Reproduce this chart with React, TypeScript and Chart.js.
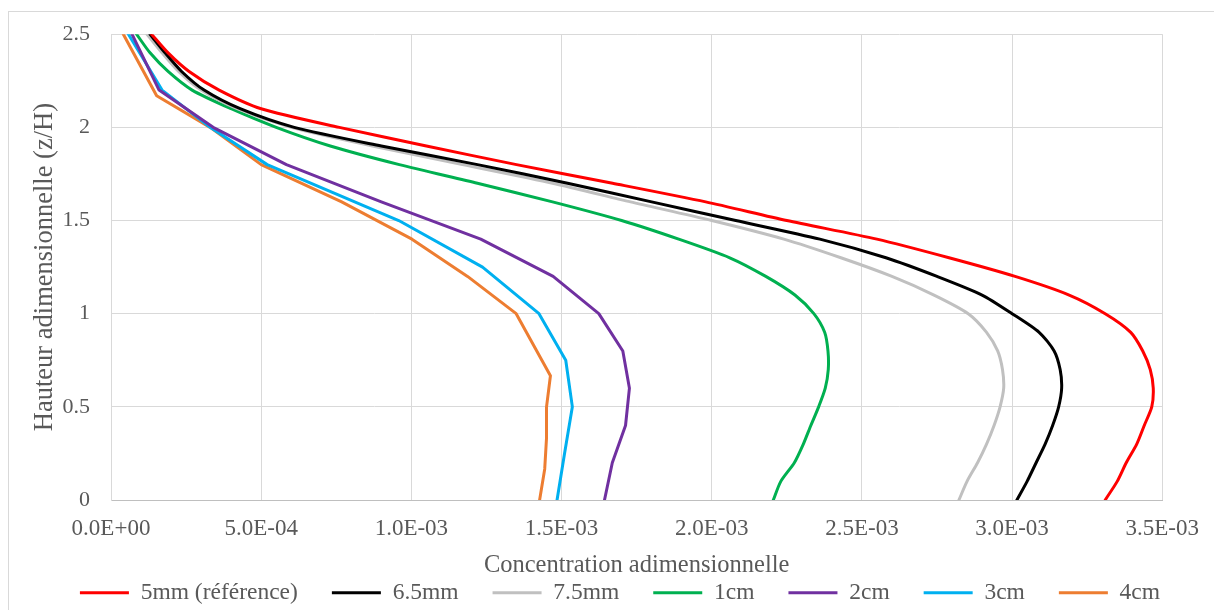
import React, { useEffect, useRef } from "react";
import { Chart, registerables } from "chart.js";

Chart.register(...registerables);

// Heights (z/H)
const heightsFine = [0, 0.1, 0.2, 0.3, 0.4, 0.5, 0.6, 0.7, 0.8, 0.9, 1.0, 1.1, 1.2, 1.3, 1.4, 1.5, 1.6, 1.7, 1.8, 1.9, 2.0, 2.1, 2.2, 2.3, 2.4, 2.5];
const heights2cm = [0, 0.2, 0.4, 0.6, 0.8, 1.0, 1.2, 1.4, 1.6, 1.8, 2.0, 2.2, 2.5];
const heights3cm = [0, 0.25, 0.5, 0.75, 1.0, 1.25, 1.5, 1.8, 2.0, 2.2, 2.5];
const heights4cm = [0, 0.167, 0.333, 0.5, 0.667, 1.0, 1.2, 1.4, 1.6, 1.8, 2.0, 2.17, 2.5];

// Concentrations, in units of 1E-03
const conc5mm = [3.31, 3.35, 3.38, 3.415, 3.44, 3.465, 3.47, 3.46, 3.435, 3.395, 3.31, 3.19, 3.01, 2.79, 2.55, 2.25, 1.98, 1.67, 1.35, 1.05, 0.76, 0.5, 0.36, 0.26, 0.19, 0.135];
const conc65mm = [3.016, 3.05, 3.08, 3.11, 3.135, 3.155, 3.165, 3.16, 3.14, 3.09, 3.0, 2.9, 2.75, 2.58, 2.36, 2.08, 1.8, 1.52, 1.22, 0.9, 0.61, 0.43, 0.31, 0.235, 0.18, 0.13];
const conc75mm = [2.823, 2.85, 2.885, 2.915, 2.94, 2.96, 2.972, 2.968, 2.952, 2.915, 2.854, 2.74, 2.6, 2.43, 2.24, 2.0, 1.73, 1.47, 1.17, 0.87, 0.6, 0.42, 0.3, 0.225, 0.17, 0.12];
const conc1cm = [2.205, 2.23, 2.275, 2.305, 2.33, 2.356, 2.378, 2.388, 2.387, 2.376, 2.34, 2.277, 2.18, 2.06, 1.89, 1.7, 1.47, 1.22, 0.96, 0.73, 0.55, 0.4, 0.27, 0.19, 0.13, 0.085];
const conc2cm = [1.643, 1.669, 1.713, 1.726, 1.704, 1.624, 1.472, 1.231, 0.9, 0.584, 0.34, 0.16, 0.07];
const conc3cm = [1.485, 1.51, 1.536, 1.514, 1.425, 1.237, 0.958, 0.52, 0.33, 0.17, 0.058];
const conc4cm = [1.427, 1.444, 1.45, 1.45, 1.463, 1.349, 1.187, 1.002, 0.768, 0.5, 0.33, 0.152, 0.041];

const seriesNames = ["5mm (référence)", "6.5mm", "7.5mm", "1cm", "2cm", "3cm", "4cm"];
const seriesColors = ["#FF0000", "#000000", "#C0C0C0", "#00B050", "#7030A0", "#00B0F0", "#ED7D31"];
const seriesTension = [0.25, 0.25, 0.25, 0.25, 0, 0, 0];

const xTickLabels = ["0.0E+00", "5.0E-04", "1.0E-03", "1.5E-03", "2.0E-03", "2.5E-03", "3.0E-03", "3.5E-03"];
const yTickLabels = ["0", "0.5", "1", "1.5", "2", "2.5"];

const xTitle = "Concentration adimensionnelle";
const yTitle = "Hauteur adimensionnelle (z/H)";

const TEXT = "#595959";
const FONT = "'Liberation Serif', 'Times New Roman', serif";

function pairs(xs: number[], ys: number[]) {
  return ys.map((y, i) => ({ x: xs[i], y }));
}

export default function App() {
  const ref = useRef<HTMLCanvasElement | null>(null);

  useEffect(() => {
    if (!ref.current) return;
    const seriesData = [
      pairs(conc5mm, heightsFine),
      pairs(conc65mm, heightsFine),
      pairs(conc75mm, heightsFine),
      pairs(conc1cm, heightsFine),
      pairs(conc2cm, heights2cm),
      pairs(conc3cm, heights3cm),
      pairs(conc4cm, heights4cm),
    ];

    const frame = {
      id: "frame",
      beforeDraw(chart: any) {
        const ctx = chart.ctx;
        ctx.save();
        ctx.strokeStyle = "#d9d9d9";
        ctx.lineWidth = 1;
        ctx.strokeRect(8.5, 11.5, 1230, 630);
        ctx.restore();
      },
      afterLayout(chart: any) {
        if (chart.legend) {
          chart.legend.left = 26;
        }
      },
    };

    const chart = new Chart(ref.current, {
      type: "scatter",
      data: {
        datasets: seriesData.map((d, i) => ({
          label: seriesNames[i],
          data: d,
          showLine: true,
          borderColor: seriesColors[i],
          backgroundColor: seriesColors[i],
          borderWidth: 3,
          borderCapStyle: "round",
          borderJoinStyle: "round",
          pointRadius: 0,
          pointHoverRadius: 0,
          tension: seriesTension[i],
        })),
      },
      options: {
        animation: false,
        responsive: false,
        devicePixelRatio: 1,
        layout: { padding: { top: 33, right: 0, bottom: 0, left: 0 } },
        plugins: {
          tooltip: { enabled: false },
          legend: {
            position: "bottom",
            maxHeight: 63,
            labels: {
              usePointStyle: true,
              pointStyle: "line",
              pointStyleWidth: 49,
              padding: 34,
              color: TEXT,
              font: { family: FONT, size: 23.5 },
            },
          },
        },
        scales: {
          x: {
            type: "linear",
            min: 0,
            max: 3.5,
            ticks: {
              stepSize: 0.5,
              padding: 15,
              color: TEXT,
              font: { family: FONT, size: 23 },
              maxRotation: 0,
              autoSkip: false,
              callback: (_v: any, i: number) => xTickLabels[i],
            },
            grid: { color: "#d9d9d9", drawTicks: false, lineWidth: 1 },
            border: { color: "#bfbfbf" },
            title: {
              display: true,
              text: xTitle,
              color: TEXT,
              font: { family: FONT, size: 24.5 },
              padding: { top: 0, bottom: -33 },
            },
            afterFit: (s: any) => {
              s.height = 47;
            },
          },
          y: {
            type: "linear",
            min: 0,
            max: 2.5,
            ticks: {
              stepSize: 0.5,
              padding: 21,
              color: TEXT,
              font: { family: FONT, size: 22 },
              callback: (_v: any, i: number) => yTickLabels[i],
            },
            grid: { color: "#d9d9d9", drawTicks: false, lineWidth: 1 },
            border: { color: "#d9d9d9" },
            title: {
              display: true,
              text: yTitle,
              color: TEXT,
              font: { family: FONT, size: 26.5 },
              padding: { top: 29, bottom: 0 },
            },
            afterFit: (s: any) => {
              s.width = 111;
            },
          },
          yRightSpace: {
            type: "linear",
            position: "right",
            display: true,
            grid: { display: false, drawTicks: false },
            ticks: { display: false },
            border: { display: false },
            afterFit: (s: any) => {
              s.width = 50;
            },
          },
        },
      },
      plugins: [frame],
    } as any);

    return () => chart.destroy();
  }, []);

  return (
    <div style={{ position: "absolute", left: 0, top: 0, width: 1214, height: 610 }}>
      <canvas ref={ref} width={1214} height={610} style={{ display: "block" }} />
    </div>
  );
}
